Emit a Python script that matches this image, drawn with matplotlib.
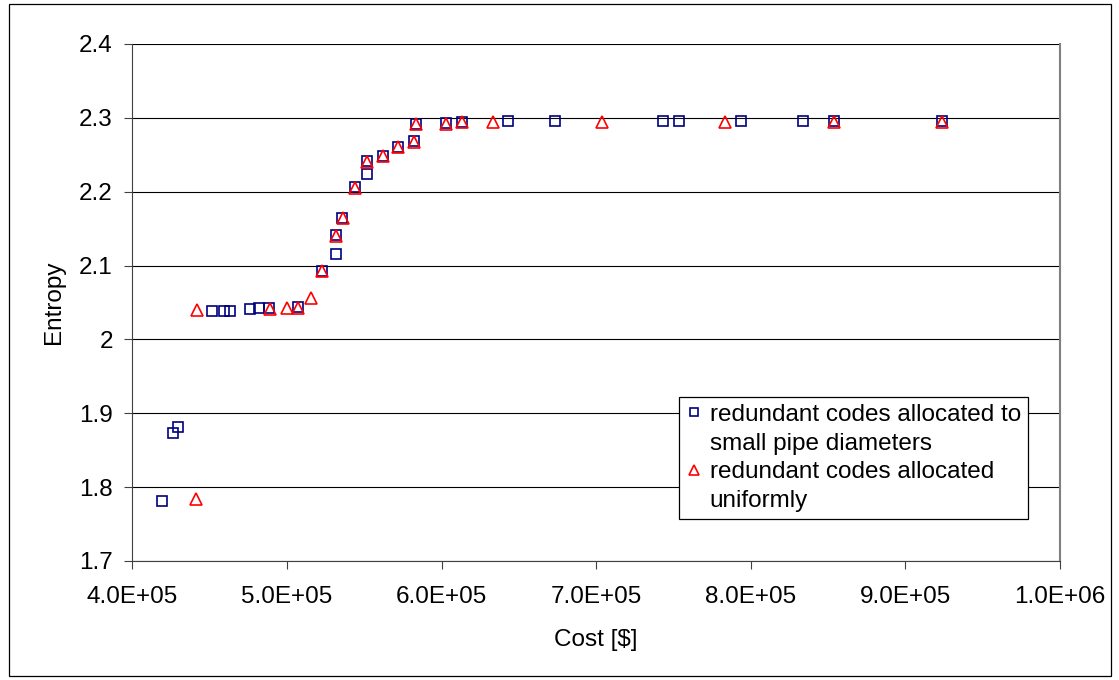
import numpy as np
import matplotlib
matplotlib.use("Agg")
import matplotlib.pyplot as plt
from matplotlib.ticker import FuncFormatter, MultipleLocator
from matplotlib.lines import Line2D
from matplotlib.patches import Rectangle

plt.rcParams['font.family'] = ['Liberation Sans', 'DejaVu Sans']

# redundant codes allocated to small pipe diameters (blue squares)
cost_small = [419400, 426600, 429800, 451700, 459000, 463300, 476300, 481700,
              488100, 506900, 522700, 531800, 531800, 535700, 544300, 551900,
              551900, 562000, 572000, 582100, 583200, 603100, 613500, 643000,
              673100, 743500, 753500, 793500, 834000, 854000, 924000]
entropy_small = [1.781, 1.873, 1.881, 2.038, 2.039, 2.039, 2.041, 2.042,
                 2.043, 2.044, 2.092, 2.115, 2.142, 2.165, 2.206, 2.224,
                 2.241, 2.249, 2.261, 2.269, 2.292, 2.293, 2.2946, 2.2955,
                 2.2955, 2.2955, 2.2955, 2.2955, 2.2955, 2.2955, 2.2955]

# redundant codes allocated uniformly (red triangles)
cost_uniform = [441100, 441700, 488800, 500100, 507200, 515800, 522700, 531800,
                536100, 544300, 551900, 562000, 572000, 582100, 583200, 603100,
                613500, 633300, 703500, 783500, 854000, 924000]
entropy_uniform = [1.784, 2.040, 2.041, 2.043, 2.043, 2.056, 2.093, 2.140,
                   2.164, 2.205, 2.240, 2.248, 2.260, 2.267, 2.292, 2.292,
                   2.294, 2.294, 2.294, 2.294, 2.294, 2.294]

label_small = ["redundant codes allocated to", "small pipe diameters"]
label_uniform = ["redundant codes allocated", "uniformly"]

FS = 17.5
W, H = 1119, 680
fig = plt.figure(figsize=(W / 100, H / 100), dpi=100)
# outer chart border
fig.patches.append(Rectangle((9 / W, 1 - 676 / H), (1111 - 9) / W, (676 - 4) / H,
                             transform=fig.transFigure, fill=False,
                             edgecolor='black', linewidth=0.9))

ax = fig.add_axes([132.3 / W, 1 - 561 / H, (1060 - 132.3) / W, (561 - 44) / H])

ax.plot(cost_small, entropy_small, linestyle='none', marker='s', ms=7.5,
        mfc='none', mec='#000080', mew=1.2, zorder=3)
ax.plot(cost_uniform, entropy_uniform, linestyle='none', marker='^', ms=8.5,
        mfc='none', mec='#FF0000', mew=1.2, zorder=4)

ax.set_xlim(4e5, 1e6)
ax.set_ylim(1.7, 2.4)
ax.xaxis.set_major_locator(MultipleLocator(1e5))
ax.yaxis.set_major_locator(MultipleLocator(0.1))
ax.xaxis.set_major_formatter(FuncFormatter(lambda v, p: f"{v:.1E}"))
ax.yaxis.set_major_formatter(FuncFormatter(lambda v, p: f"{v:g}"))

ax.grid(axis='y', color='black', linewidth=0.8)
ax.set_axisbelow(True)
ax.spines['top'].set_visible(False)
ax.spines['right'].set_color('#808080')
ax.spines['right'].set_linewidth(1.5)
ax.spines['left'].set_color('#404040')
ax.spines['bottom'].set_color('#404040')

ax.tick_params(axis='both', labelsize=FS, direction='out', length=6,
               width=0.8, color='#404040')
ax.tick_params(axis='x', pad=12)
ax.tick_params(axis='y', pad=8)

ax.set_xlabel('Cost [$]', fontsize=FS, labelpad=15)
ax.set_ylabel('Entropy', fontsize=FS, labelpad=10)

blank = Line2D([], [], linestyle='none', marker='none')
h_sq = Line2D([], [], linestyle='none', marker='s', ms=7.5, mfc='none',
              mec='#000080', mew=1.2)
h_tr = Line2D([], [], linestyle='none', marker='^', ms=8.5, mfc='none',
              mec='#FF0000', mew=1.2)
leg = ax.legend([h_sq, blank, h_tr, blank],
                [label_small[0], label_small[1], label_uniform[0], label_uniform[1]],
                loc='upper left', bbox_to_anchor=(0.5896, 0.3178),
                borderaxespad=0, fontsize=FS, frameon=True, fancybox=False,
                edgecolor='black', framealpha=1, handlelength=0.6,
                handletextpad=0.35, borderpad=0.3, labelspacing=0.27,
                markerscale=0.8)
leg.get_frame().set_linewidth(0.9)

fig.savefig('out.png', dpi=100)
